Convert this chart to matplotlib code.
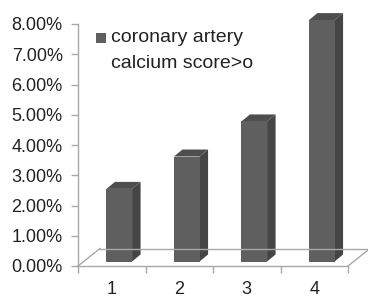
import matplotlib
matplotlib.use("Agg")
import matplotlib.pyplot as plt
from matplotlib.patches import Polygon, Rectangle
from matplotlib.lines import Line2D
from matplotlib.transforms import IdentityTransform
from matplotlib.ticker import FuncFormatter

# ---- data ----
categories = ["1", "2", "3", "4"]
values = [0.0240, 0.0347, 0.0463, 0.0798]
series_label = ["coronary artery", "calcium score>o"]
y_ticks = [0.00, 0.01, 0.02, 0.03, 0.04, 0.05, 0.06, 0.07, 0.08]

# ---- style ----
W, H = 368, 297
FONT = "Liberation Sans"
FS = 13
AX_COL = "#a8a8a8"
FRONT_COL = "#5f5f5f"
SIDE_COL = "#454545"
TOP_COL = "#4e4e4e"
FLOOR_DX, FLOOR_DY = 22, 17.5      # pixel depth of floor
BAR_FX, BAR_FY = 7.5, 4.5          # front face offset from front plane
BAR_DX, BAR_DY = 8.5, 7.0          # bar depth
BAR_W = 0.38

plt.rcParams["font.family"] = [FONT, "DejaVu Sans"]

fig = plt.figure(figsize=(W / 100, H / 100), dpi=100)
ax = fig.add_axes([78 / W, (H - 266) / H, 270 / W, 242 / H])
ax.set_xlim(0.5, 4.5)
ax.set_ylim(0, 0.08)
for s in ["top", "right"]:
    ax.spines[s].set_visible(False)
for s in ["left", "bottom"]:
    ax.spines[s].set_color(AX_COL)
    ax.spines[s].set_linewidth(1.0)

ax.set_yticks(y_ticks)
ax.yaxis.set_major_formatter(FuncFormatter(lambda v, p: f"{v * 100:.2f}%"))
ax.tick_params(axis="y", length=5, width=1.0, color=AX_COL, labelsize=FS,
               pad=6, labelcolor="#222222")
xpos = list(range(1, len(categories) + 1))
ax.set_xticks(xpos)
ax.set_xticklabels(categories)
ax.set_xticks([p - 0.5 for p in xpos] + [xpos[-1] + 0.5], minor=True)
ax.tick_params(axis="x", which="major", length=0, labelsize=FS, pad=11,
               labelcolor="#222222")
ax.tick_params(axis="x", which="minor", length=5, width=1.0, color=AX_COL)

fig.canvas.draw()
T = ax.transData
ident = IdentityTransform()

# floor (back edge and side diagonals)
fl = T.transform((0.5, 0))
fr = T.transform((4.5, 0))
floor_lines = [
    ([fl[0], fl[0] + FLOOR_DX], [fl[1], fl[1] + FLOOR_DY]),
    ([fr[0], fr[0] + FLOOR_DX], [fr[1], fr[1] + FLOOR_DY]),
    ([fl[0] + FLOOR_DX, fr[0] + FLOOR_DX], [fl[1] + FLOOR_DY, fr[1] + FLOOR_DY]),
]
for xs, ys in floor_lines:
    fig.add_artist(Line2D(xs, ys, transform=ident, color=AX_COL, lw=1.0,
                          clip_on=False))

# 3D bars
for x, v in zip(xpos, values):
    x0, y0 = T.transform((x - BAR_W / 2, 0))
    x1, y1 = T.transform((x + BAR_W / 2, v))
    x0 += BAR_FX; x1 += BAR_FX
    y0 += BAR_FY; y1 += BAR_FY
    front = [(x0, y0), (x1, y0), (x1, y1), (x0, y1)]
    side = [(x1, y0), (x1 + BAR_DX, y0 + BAR_DY), (x1 + BAR_DX, y1 + BAR_DY), (x1, y1)]
    top = [(x0, y1), (x1, y1), (x1 + BAR_DX, y1 + BAR_DY), (x0 + BAR_DX, y1 + BAR_DY)]
    for pts, c in [(side, SIDE_COL), (top, TOP_COL), (front, FRONT_COL)]:
        fig.add_artist(Polygon(pts, closed=True, transform=ident, facecolor=c,
                               edgecolor="none", clip_on=False))

# legend
fig.add_artist(Rectangle((96 / W, 1 - 43 / H), 10 / W, 10 / H,
                         transform=fig.transFigure, facecolor=FRONT_COL,
                         edgecolor="none"))
fig.text(111 / W, 1 - 38 / H, series_label[0], fontsize=14, color="#222222",
         va="center", ha="left")
fig.text(111 / W, 1 - 63 / H, series_label[1], fontsize=14, color="#222222",
         va="center", ha="left")

fig.savefig("out.png", dpi=100, facecolor="white")
